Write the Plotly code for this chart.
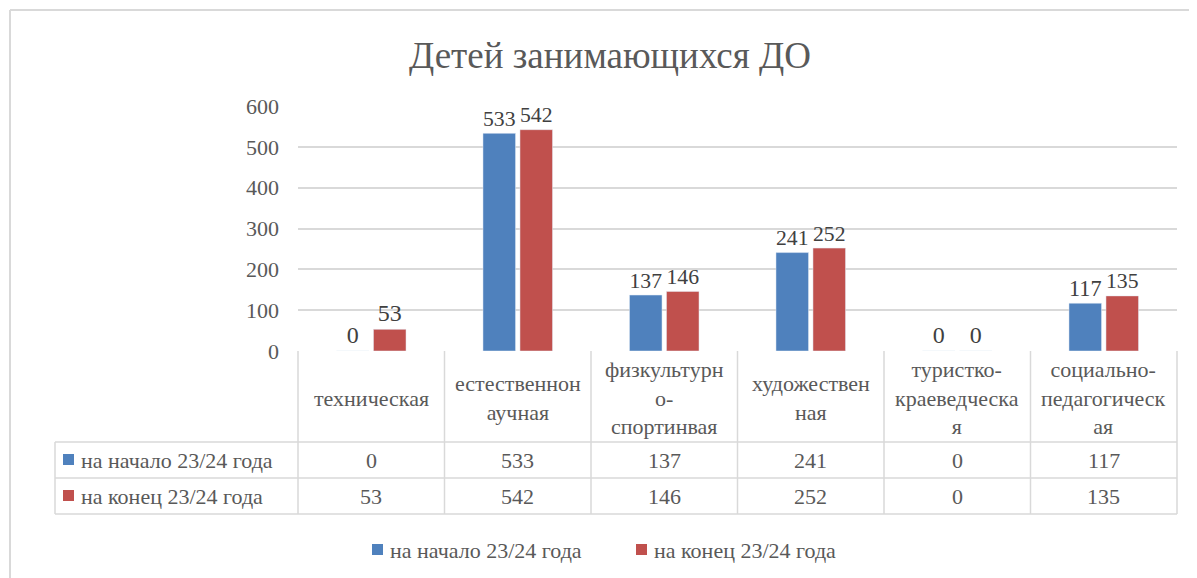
import plotly.graph_objects as go

categories = ["техническая", "естественнонаучная", "физкультурно-спортинвая",
              "художественная", "туристко-краеведческая", "социально-педагогическая"]
# wrapped the way the Excel data table wraps them
header_labels = ["техническая", "естественнон<br>аучная", "физкультурн<br>о-<br>спортинвая",
                 "художествен<br>ная", "туристко-<br>краеведческа<br>я", "социально-<br>педагогическ<br>ая"]
series_names = ["на начало 23/24 года", "на конец 23/24 года"]
start_vals = [0, 533, 137, 241, 0, 117]
end_vals = [53, 542, 146, 252, 0, 135]

BLUE = "#4F81BD"
RED = "#C0504D"
GRID = "#D9D9D9"
TXT = "#595959"
FONT = "Liberation Serif, Liberation Sans, Arial, sans-serif"

OFF = 8  # page body margin
W, H = 1197 - OFF, 578 - OFF
L, T = 298 - OFF, 106 - OFF
R = W - (1177 - OFF)
B = H - (351 - OFF)
pw = W - L - R
ph = H - T - B


def px(x):
    return (x - OFF - L) / pw


def py(y):
    return (H - B - (y - OFF)) / ph


fig = go.Figure()
for name, vals, col in [(series_names[0], start_vals, BLUE), (series_names[1], end_vals, RED)]:
    fig.add_trace(go.Bar(
        x=categories, y=vals, name=name, marker_color=col,
        text=[str(v) for v in vals], textposition="outside", cliponaxis=False,
        textfont=dict(family=FONT, size=24, color="#404040"),
    ))

shapes = []
line = dict(color=GRID, width=1.5)
# outer chart border (top and left visible)
shapes.append(dict(type="line", xref="paper", yref="paper", x0=px(10), x1=px(1197), y0=py(10), y1=py(10), line=dict(color=GRID, width=2)))
shapes.append(dict(type="line", xref="paper", yref="paper", x0=px(10), x1=px(10), y0=py(10), y1=py(578), line=dict(color=GRID, width=2)))

# data table grid
x0t, x1t = 298, 1177
col_w = (x1t - x0t) / len(categories)
for i in range(len(categories) + 1):
    xx = x0t + i * col_w
    shapes.append(dict(type="line", xref="paper", yref="paper", x0=px(xx), x1=px(xx), y0=py(351), y1=py(514), line=line))
for yy in [442, 478, 514]:
    shapes.append(dict(type="line", xref="paper", yref="paper", x0=px(55), x1=px(x1t), y0=py(yy), y1=py(yy), line=line))
shapes.append(dict(type="line", xref="paper", yref="paper", x0=px(55), x1=px(55), y0=py(442), y1=py(514), line=line))

annotations = []
tf = dict(family=FONT, size=22, color=TXT)
for i, lab in enumerate(header_labels):
    cx = x0t + (i + 0.5) * col_w
    annotations.append(dict(xref="paper", yref="paper", x=px(cx), y=py(398), text=lab, showarrow=False,
                            font=tf, xanchor="center", yanchor="middle"))

row_y = [460, 496]
for r, (name, vals, col) in enumerate([(series_names[0], start_vals, BLUE), (series_names[1], end_vals, RED)]):
    yc = row_y[r]
    shapes.append(dict(type="rect", xref="paper", yref="paper", x0=px(63), x1=px(74), y0=py(yc - 6), y1=py(yc + 5),
                       fillcolor=col, line=dict(width=0)))
    annotations.append(dict(xref="paper", yref="paper", x=px(79), y=py(yc), text=name, showarrow=False,
                            font=tf, xanchor="left", yanchor="middle"))
    for i, v in enumerate(vals):
        cx = x0t + (i + 0.5) * col_w
        annotations.append(dict(xref="paper", yref="paper", x=px(cx), y=py(yc), text=str(v), showarrow=False,
                                font=tf, xanchor="center", yanchor="middle"))

# bottom legend, drawn by hand like Excel's
leg_x = [372, 636]
for name, col, lx in zip(series_names, [BLUE, RED], leg_x):
    shapes.append(dict(type="rect", xref="paper", yref="paper", x0=px(lx), x1=px(lx + 11), y0=py(555), y1=py(544),
                       fillcolor=col, line=dict(width=0)))
    annotations.append(dict(xref="paper", yref="paper", x=px(lx + 16), y=py(550), text=name, showarrow=False,
                            font=tf, xanchor="left", yanchor="middle"))

fig.update_layout(
    width=W, height=H,
    margin=dict(l=L, r=R, t=T, b=B),
    paper_bgcolor="white", plot_bgcolor="white",
    title=dict(text="Детей занимающихся ДО", x=(610 - OFF) / W, xanchor="center",
               y=1 - (55 - OFF) / H, yanchor="middle",
               font=dict(family=FONT, size=37, color=TXT)),
    barmode="group", bargap=0.495, bargroupgap=0.12,
    shapes=shapes, annotations=annotations,
    showlegend=False,
)
fig.update_xaxes(showticklabels=False, showgrid=False, zeroline=False, showline=False)
fig.update_yaxes(range=[0, 600], dtick=100, gridcolor=GRID, gridwidth=1.5, zeroline=False, showline=False,
                 tickfont=dict(family=FONT, size=22, color=TXT), ticks="", ticklabelstandoff=18)

fig.write_html("out.html")
